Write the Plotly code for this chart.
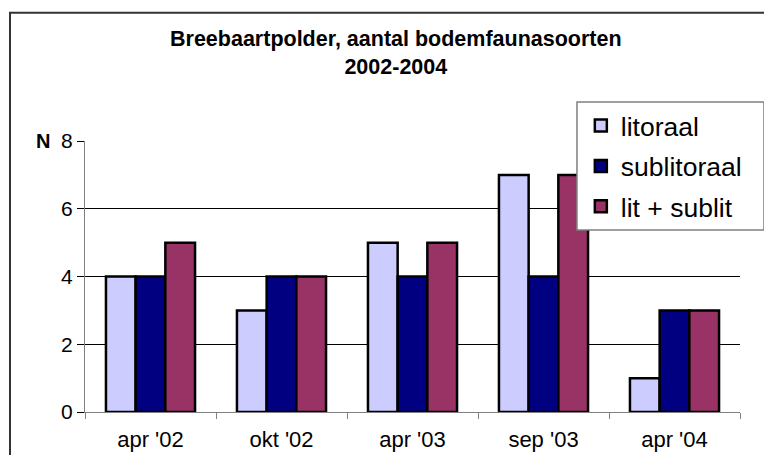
import plotly.graph_objects as go

periods = ["apr '02", "okt '02", "apr '03", "sep '03", "apr '04"]
litoraal = [4, 3, 5, 7, 1]
sublitoraal = [4, 4, 4, 4, 3]
lit_sublit = [5, 4, 5, 7, 3]

font = "Arial, Liberation Sans, sans-serif"
outline = dict(color="black", width=2.5)

fig = go.Figure()
fig.add_trace(go.Bar(x=periods, y=litoraal, name="litoraal", legendgroup="a",
                     marker=dict(color="#CCCCFF", line=outline)))
fig.add_trace(go.Bar(x=periods, y=sublitoraal, name="sublitoraal", legendgroup="b",
                     marker=dict(color="#000080", line=outline)))
fig.add_trace(go.Bar(x=periods, y=lit_sublit, name="lit + sublit", legendgroup="c",
                     marker=dict(color="#993366", line=outline)))

# page body has an 8px margin, so the figure is shifted accordingly
fig.update_layout(
    width=764, height=447,
    margin=dict(l=77, r=32, t=133, b=43),
    paper_bgcolor="white", plot_bgcolor="white",
    font=dict(family=font, size=20, color="black"),
    barmode="group", bargap=0.32, bargroupgap=0,
    legend=dict(x=0.757, y=1.145, xanchor="left", yanchor="top",
                bgcolor="rgba(0,0,0,0)", borderwidth=0,
                font=dict(size=26.5), tracegroupgap=3, traceorder="grouped"),
    showlegend=True,
)
fig.update_xaxes(showline=True, linecolor="#808080", linewidth=1,
                 ticks="outside", tickson="boundaries", ticklen=6, tickcolor="#808080",
                 tickfont=dict(size=22), ticklabelstandoff=8, showgrid=False,
                 automargin=False)
fig.update_yaxes(range=[0, 8], dtick=2, showline=True, linecolor="#808080", linewidth=1,
                 ticks="outside", ticklen=7, tickcolor="black",
                 showgrid=True, gridcolor="black", gridwidth=1,
                 tickfont=dict(size=21), zeroline=False, automargin=False)

fig.add_annotation(text="<b>Breebaartpolder, aantal bodemfaunasoorten<br>2002-2004</b>",
                   xref="paper", yref="paper", x=(388 - 77) / 655, y=1.326,
                   xanchor="center", yanchor="middle", showarrow=False,
                   font=dict(size=21.5))
fig.add_annotation(text="<b>N</b>", xref="paper", yref="y", x=-0.0504, y=8,
                   xanchor="right", yanchor="middle", showarrow=False,
                   font=dict(size=20))
# legend frame
fig.add_shape(type="rect", xref="paper", yref="paper",
              x0=0.7511, x1=1.0366, y0=0.6716, y1=1.1439,
              line=dict(color="#808080", width=1.5), fillcolor="white", layer="above")
# outer chart border
fig.add_shape(type="rect", xref="paper", yref="paper",
              x0=-0.1145, x1=1.2, y0=-0.5, y1=1.4734,
              line=dict(color="#333333", width=2), layer="below")

fig.write_html("out.html")
